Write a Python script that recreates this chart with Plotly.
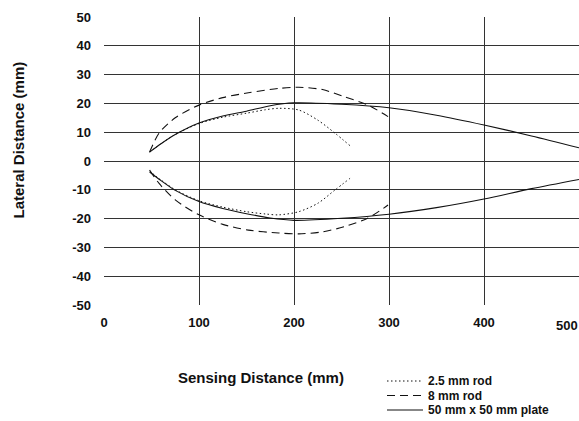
import plotly.graph_objects as go

# ---- data ----
rod25_x = [48, 60, 75, 100, 125, 150, 170, 184, 205, 225, 243, 259]
rod25_upper = [3.1, 6.0, 9.2, 13.0, 15.2, 16.6, 17.8, 18.3, 17.7, 14.2, 9.7, 5.3]
rod25_lower = [-3.5, -6.6, -10.0, -13.8, -16.0, -17.6, -18.4, -18.7, -17.6, -14.7, -10.1, -6.0]

rod8_x = [48, 58, 75, 100, 125, 152, 184, 205, 230, 253, 278, 299]
rod8_upper = [3.1, 9.7, 15.0, 19.4, 22.0, 23.7, 25.2, 25.6, 24.8, 22.3, 19.4, 15.4]
rod8_lower = [-3.1, -7.8, -13.5, -18.7, -22.0, -24.0, -25.0, -25.3, -24.6, -22.8, -19.8, -15.3]

plate_x = [48, 60, 75, 100, 125, 150, 175, 200, 250, 300, 350, 400, 450, 500]
plate_upper = [3.1, 6.0, 9.2, 13.2, 15.6, 17.3, 19.2, 20.2, 19.7, 18.5, 15.9, 12.5, 8.7, 4.6]
plate_lower = [-3.8, -6.8, -10.2, -14.1, -16.5, -18.3, -19.8, -20.6, -19.9, -18.5, -16.2, -13.2, -9.6, -6.4]

series_names = ["2.5 mm rod", "8 mm rod", "50 mm x 50 mm plate"]
x_ticks = [0, 100, 200, 300, 400, 500]
y_ticks = [-50, -40, -30, -20, -10, 0, 10, 20, 30, 40, 50]

FONT = "Liberation Sans, Arial, sans-serif"
styles = [
    dict(color="#111", width=1.0, dash="1.5px,2.5px"),
    dict(color="#111", width=1.1, dash="8px,5px"),
    dict(color="#111", width=1.1, dash="solid"),
]

series = [
    (rod25_x, rod25_upper, rod25_lower),
    (rod8_x, rod8_upper, rod8_lower),
    (plate_x, plate_upper, plate_lower),
]

fig = go.Figure()
for (xs, up, lo), name, st in zip(series, series_names, styles):
    for ys in (up, lo):
        fig.add_trace(go.Scatter(x=xs, y=ys, mode="lines", name=name,
                                 line=dict(shape="spline", smoothing=0.8, **st),
                                 showlegend=False, hoverinfo="skip"))

W, H = 579, 421
L, R, T, B = 104, 0, 17, 116
pw, ph = W - L - R, H - T - B

def px(p):
    return (p - L) / pw

def py(p):
    return (H - B - p) / ph

tickfont = dict(family=FONT, size=13, color="#111", weight="bold")

# manual legend (compact spacing as in the reference)
legend_rows = [381, 395.5, 410]
for name, st, yr in zip(series_names, styles, legend_rows):
    fig.add_shape(type="line", xref="paper", yref="paper",
                  x0=px(387), x1=px(423), y0=py(yr), y1=py(yr),
                  line=dict(color=st["color"], width=st["width"], dash=st["dash"]))
    fig.add_annotation(text=name, xref="paper", yref="paper", x=px(427), y=py(yr),
                       xanchor="left", yanchor="middle", showarrow=False, borderpad=0,
                       font=dict(family=FONT, size=12, color="#111", weight="bold"))

fig.add_annotation(text="Sensing Distance (mm)", xref="paper", yref="paper",
                   x=px(261), y=py(377), xanchor="center", yanchor="middle",
                   showarrow=False,
                   font=dict(family=FONT, size=15, color="#111", weight="bold"))
fig.add_annotation(text="Lateral Distance (mm)", xref="paper", yref="paper",
                   x=px(17.5), y=py(140), xanchor="center", yanchor="middle",
                   textangle=-90, showarrow=False,
                   font=dict(family=FONT, size=15, color="#111", weight="bold"))

# last x tick label sits at the right edge; keep it visible like the reference
fig.add_annotation(text=str(x_ticks[-1]), xref="paper", yref="paper",
                   x=1.0, y=py(325), xanchor="right", yanchor="middle",
                   showarrow=False, borderpad=0, font=tickfont)

axis_common = dict(showgrid=True, gridcolor="#333", gridwidth=1, zeroline=False,
                   showline=False, ticks="", fixedrange=True, tickfont=tickfont)

fig.update_xaxes(range=[0, 500], tickvals=x_ticks,
                 ticktext=[str(v) for v in x_ticks[:-1]] + [""],
                 ticklabelstandoff=8, **axis_common)
fig.update_yaxes(range=[-50, 50], tickvals=y_ticks, ticktext=[str(v) for v in y_ticks],
                 ticklabelstandoff=12, **axis_common)

fig.update_layout(width=W, height=H, margin=dict(l=L, r=R, t=T, b=B, pad=0),
                  plot_bgcolor="white", paper_bgcolor="white", showlegend=False)

fig.write_html("out.html", config={"displayModeBar": False},
               post_script="document.body.style.margin='0px';document.body.style.overflow='hidden';")
